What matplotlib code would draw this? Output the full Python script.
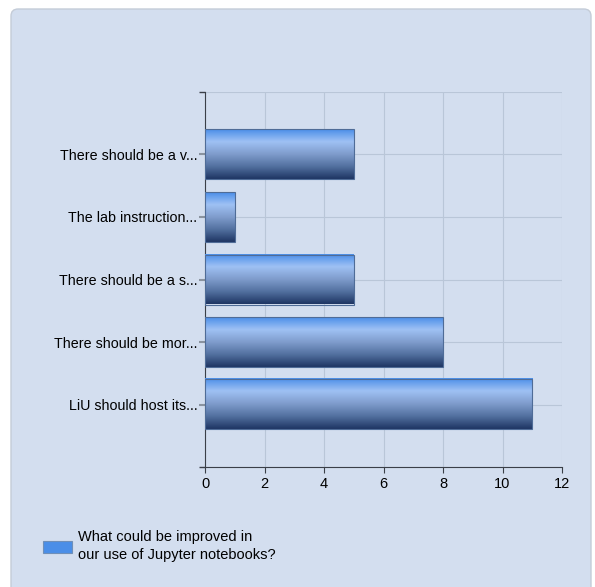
import numpy as np
import matplotlib.pyplot as plt
from matplotlib.colors import LinearSegmentedColormap
from matplotlib.patches import FancyBboxPatch, Rectangle

plt.rcParams['font.family'] = ['Liberation Sans', 'DejaVu Sans']

categories = [
    "There should be a v...",
    "The lab instruction...",
    "There should be a s...",
    "There should be mor...",
    "LiU should host its...",
]
values = [5, 1, 5, 8, 11]
x_ticks = [0, 2, 4, 6, 8, 10, 12]
series_name = "What could be improved in\nour use of Jupyter notebooks?"

panel_color = "#d3deef"
grid_color = "#b9c6d8"
bar_cmap = LinearSegmentedColormap.from_list(
    "bar", ["#4a8ee8", "#9fc1f4", "#7f9ccc", "#52709f", "#1e3563"])

fig = plt.figure(figsize=(5.95, 5.87), dpi=100)
fig.patch.set_facecolor("white")

# rounded background panel
panel = FancyBboxPatch((11 / 595, -0.05), 580 / 595, 1.05 - 9 / 587,
                       boxstyle="round,pad=0,rounding_size=0.012",
                       transform=fig.transFigure, facecolor=panel_color,
                       edgecolor="#c4ccd8", linewidth=1.0, zorder=-2)
fig.patches.append(panel)

ax = fig.add_axes([205 / 595, 120 / 587, 357 / 595, 375 / 587])
ax.set_zorder(1)
ax.patch.set_alpha(0)

ypos = np.arange(1, len(categories) + 1)
bar_h = 0.8

grad = np.linspace(0, 1, 256).reshape(-1, 1)
for y, v in zip(ypos, values):
    ax.imshow(grad, cmap=bar_cmap, aspect="auto", interpolation="bicubic",
              extent=(0, v, y + bar_h / 2, y - bar_h / 2), zorder=3)
    ax.add_patch(Rectangle((0, y - bar_h / 2), v, bar_h, fill=False,
                           edgecolor="#4f6c97", linewidth=0.8, zorder=4))
ax.set_xlim(0, 12)
ax.set_ylim(len(categories) + 1, 0)

ax.set_xticks(x_ticks)
ax.set_yticks(ypos)
ax.set_yticklabels(categories)
# dark end ticks at the top and bottom of the category axis
ax.set_yticks([0, len(categories) + 1], minor=True)
ax.grid(True, color=grid_color, linewidth=0.8, zorder=1)
ax.grid(True, which="minor", axis="y", color=grid_color, linewidth=0.8)
ax.set_axisbelow(True)

for s in ["top", "right"]:
    ax.spines[s].set_visible(False)
ax.spines["left"].set_color("#3a3f48")
ax.spines["bottom"].set_color("#3a3f48")
ax.tick_params(axis="x", colors="#3a3f48", length=4.5, labelsize=10.5,
               labelcolor="black", pad=3)
ax.tick_params(axis="y", colors="#8a939f", length=4, width=1.5,
               labelsize=10.3, labelcolor="black", pad=1.5)
ax.tick_params(axis="y", which="minor", colors="#3a3f48", length=4, width=1)

# legend
fig.patches.append(Rectangle((43 / 595, (587 - 553) / 587), 29 / 595, 12 / 587,
                             transform=fig.transFigure, facecolor="#4a8ee8",
                             edgecolor="#6f8fb8", linewidth=0.8, zorder=2))
fig.text(78 / 595, (587 - 546) / 587, series_name, fontsize=10.5,
         va="center", ha="left", linespacing=1.38)

fig.savefig("out.png", dpi=100)
